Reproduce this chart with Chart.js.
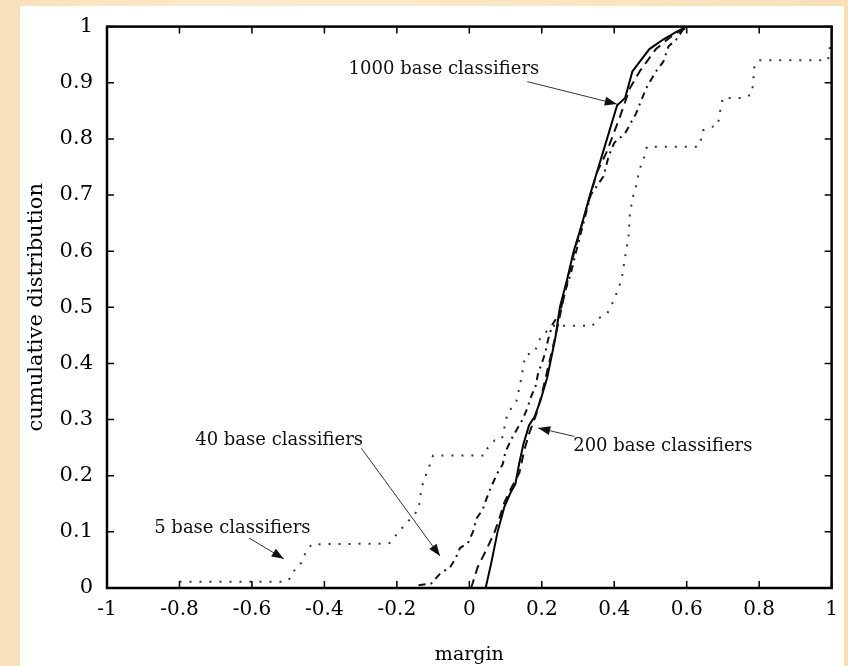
<!DOCTYPE html>
<html>
<head>
<meta charset="utf-8">
<script src="https://cdn.jsdelivr.net/npm/chart.js@4.4.0/dist/chart.umd.min.js"></script>
<style>
  html, body { margin: 0; padding: 0; }
  body {
    width: 848px; height: 666px; overflow: hidden;
    background: linear-gradient(90deg, #f8e0bb 0%, #fceace 30%, #fae5c4 65%, #f8dfb8 100%);
  }
  canvas { display: block; }
</style>
</head>
<body>
<canvas id="margins" width="848" height="666"></canvas>
<script>
"use strict";

// Tick values and labels.
const xTicks = [-1, -0.8, -0.6, -0.4, -0.2, 0, 0.2, 0.4, 0.6, 0.8, 1];
const xTickLabels = ["-1", "-0.8", "-0.6", "-0.4", "-0.2", "0", "0.2", "0.4", "0.6", "0.8", "1"];
const yTicks = [0, 0.1, 0.2, 0.3, 0.4, 0.5, 0.6, 0.7, 0.8, 0.9, 1];
const yTickLabels = ["0", "0.1", "0.2", "0.3", "0.4", "0.5", "0.6", "0.7", "0.8", "0.9", "1"];

// Margin distributions, [margin, cumulative].
const base5 = [
  [-0.8, 0.011], [-0.506, 0.011], [-0.49, 0.02], [-0.479, 0.037], [-0.463, 0.045],
  [-0.452, 0.063], [-0.435, 0.078], [-0.25, 0.079], [-0.22, 0.08], [-0.195, 0.10],
  [-0.17, 0.118], [-0.14, 0.14], [-0.135, 0.165], [-0.127, 0.19], [-0.114, 0.21],
  [-0.10, 0.236], [0.042, 0.236], [0.05, 0.249], [0.07, 0.263], [0.09, 0.265],
  [0.105, 0.31], [0.13, 0.333], [0.14, 0.362], [0.15, 0.397], [0.155, 0.415],
  [0.18, 0.42], [0.195, 0.444], [0.21, 0.455], [0.23, 0.467], [0.34, 0.467],
  [0.352, 0.479], [0.38, 0.488], [0.40, 0.514], [0.42, 0.549], [0.43, 0.589],
  [0.44, 0.629], [0.443, 0.664], [0.45, 0.693], [0.46, 0.716], [0.47, 0.746],
  [0.483, 0.768], [0.49, 0.786], [0.632, 0.786], [0.64, 0.80], [0.645, 0.815],
  [0.66, 0.82], [0.686, 0.824], [0.69, 0.841], [0.695, 0.859], [0.70, 0.873],
  [0.76, 0.873], [0.78, 0.88], [0.783, 0.899], [0.785, 0.915], [0.787, 0.931],
  [0.80, 0.94], [0.99, 0.94], [0.995, 0.963], [1.0, 0.98]
];
const base40 = [
  [-0.14, 0.005], [-0.105, 0.008], [-0.08, 0.026], [-0.053, 0.037], [-0.037, 0.054],
  [-0.026, 0.071], [-0.004, 0.08], [0.01, 0.10], [0.02, 0.124], [0.037, 0.14],
  [0.048, 0.16], [0.06, 0.18], [0.078, 0.205], [0.092, 0.22], [0.10, 0.243],
  [0.12, 0.27], [0.147, 0.30], [0.16, 0.32], [0.17, 0.34], [0.183, 0.36],
  [0.19, 0.383], [0.2, 0.40], [0.21, 0.42], [0.218, 0.444], [0.23, 0.47],
  [0.25, 0.49], [0.265, 0.53], [0.28, 0.56], [0.295, 0.60], [0.315, 0.65],
  [0.335, 0.70], [0.37, 0.733], [0.385, 0.77], [0.4, 0.793], [0.43, 0.81],
  [0.46, 0.845], [0.488, 0.89], [0.515, 0.92], [0.535, 0.937], [0.55, 0.965],
  [0.57, 0.976], [0.59, 0.995], [0.6, 1.0]
];
const base200 = [
  [0.005, 0], [0.023, 0.037], [0.05, 0.072], [0.07, 0.10], [0.083, 0.124],
  [0.097, 0.153], [0.114, 0.176], [0.138, 0.205], [0.152, 0.246], [0.165, 0.275],
  [0.185, 0.31], [0.20, 0.345], [0.22, 0.40], [0.24, 0.455], [0.255, 0.50],
  [0.272, 0.55], [0.29, 0.60], [0.31, 0.646], [0.33, 0.69], [0.352, 0.74],
  [0.378, 0.775], [0.415, 0.838], [0.443, 0.89], [0.47, 0.92], [0.515, 0.96],
  [0.56, 0.984], [0.59, 0.995], [0.61, 1.0]
];
const base1000 = [
  [0.045, 0], [0.06, 0.043], [0.078, 0.10], [0.097, 0.145], [0.114, 0.17],
  [0.127, 0.185], [0.138, 0.223], [0.15, 0.258], [0.165, 0.29], [0.18, 0.305],
  [0.196, 0.333], [0.215, 0.375], [0.237, 0.444], [0.25, 0.50], [0.27, 0.55],
  [0.288, 0.60], [0.31, 0.646], [0.333, 0.70], [0.352, 0.74], [0.38, 0.80],
  [0.408, 0.86], [0.43, 0.873], [0.45, 0.92], [0.47, 0.937], [0.497, 0.96],
  [0.535, 0.977], [0.57, 0.99], [0.6, 1.0]
];

// Callouts: text, text centre, arrow start, arrow tip (data units).
const notes = [
  { text: "1000 base classifiers", at: [-0.07, 0.923], from: [0.16, 0.902], to: [0.407, 0.862] },
  { text: "200 base classifiers", at: [0.534, 0.253], from: [0.29, 0.27], to: [0.19, 0.285] },
  { text: "40 base classifiers", at: [-0.525, 0.263], from: [-0.298, 0.249], to: [-0.081, 0.057] },
  { text: "5 base classifiers", at: [-0.654, 0.106], from: [-0.608, 0.089], to: [-0.512, 0.052] }
];

const SERIF = "'DejaVu Serif', 'Liberation Serif', serif";
const toPoints = (arr) => arr.map(([x, y]) => ({ x, y }));

const line = (data, dash, width, color) => ({
  data: toPoints(data),
  showLine: true,
  borderColor: color,
  borderWidth: width,
  borderDash: dash,
  pointRadius: 0,
  tension: 0,
  fill: false,
});

// Paper, frame, inward ticks and callouts.
const paperPlugin = {
  id: "paper",
  beforeDraw(chart) {
    const { ctx } = chart;
    ctx.save();
    ctx.fillStyle = "#ffffff";
    ctx.fillRect(20, 6, chart.width - 24, chart.height - 6);
    ctx.restore();
  },
  afterDatasetsDraw(chart) {
    const { ctx, scales: { x, y } } = chart;
    ctx.save();
    ctx.fillStyle = "#111";
    ctx.strokeStyle = "#333";
    ctx.lineWidth = 1;
    ctx.font = "18px " + SERIF;
    ctx.textAlign = "center";
    ctx.textBaseline = "middle";
    notes.forEach((n) => {
      ctx.fillText(n.text, x.getPixelForValue(n.at[0]), y.getPixelForValue(n.at[1]));
      const x0 = x.getPixelForValue(n.from[0]), y0 = y.getPixelForValue(n.from[1]);
      const x1 = x.getPixelForValue(n.to[0]), y1 = y.getPixelForValue(n.to[1]);
      ctx.beginPath();
      ctx.moveTo(x0, y0);
      ctx.lineTo(x1, y1);
      ctx.stroke();
      const ang = Math.atan2(y1 - y0, x1 - x0), len = 12, w = 4.5;
      const bx = x1 - len * Math.cos(ang), by = y1 - len * Math.sin(ang);
      ctx.beginPath();
      ctx.moveTo(x1, y1);
      ctx.lineTo(bx + w * Math.sin(ang), by - w * Math.cos(ang));
      ctx.lineTo(bx - w * Math.sin(ang), by + w * Math.cos(ang));
      ctx.closePath();
      ctx.fill();
    });
    ctx.restore();
  },
  afterDraw(chart) {
    const { ctx, chartArea: a, scales: { x, y } } = chart;
    ctx.save();
    ctx.strokeStyle = "#000";
    ctx.lineWidth = 1.5;
    ctx.beginPath();
    xTicks.forEach((v) => {
      const px = x.getPixelForValue(v);
      ctx.moveTo(px, a.bottom); ctx.lineTo(px, a.bottom - 7);
      ctx.moveTo(px, a.top); ctx.lineTo(px, a.top + 7);
    });
    yTicks.forEach((v) => {
      const py = y.getPixelForValue(v);
      ctx.moveTo(a.left, py); ctx.lineTo(a.left + 7, py);
      ctx.moveTo(a.right, py); ctx.lineTo(a.right - 7, py);
    });
    ctx.stroke();
    ctx.lineWidth = 2.5;
    ctx.strokeRect(a.left, a.top, a.right - a.left, a.bottom - a.top);
    ctx.restore();
  },
};

const ctx = document.getElementById("margins");

const marginChart = new Chart(ctx, {
  type: "scatter",
  data: {
    datasets: [
      line(base5, [2, 8], 2, "#333"),
      line(base40, [7, 5, 2, 5], 2, "#111"),
      line(base200, [9, 6], 2, "#111"),
      line(base1000, [], 2, "#000"),
    ],
  },
  options: {
    responsive: false,
    animation: false,
    layout: { padding: { top: 14, right: 12, left: 0, bottom: 0 } },
    plugins: { legend: { display: false }, tooltip: { enabled: false } },
    scales: {
      x: {
        type: "linear",
        min: -1,
        max: 1,
        grid: { display: false, drawTicks: false },
        border: { display: false },
        afterBuildTicks: (s) => { s.ticks = xTicks.map((v) => ({ value: v })); },
        afterFit: (s) => { s.height = 78; },
        ticks: {
          padding: 10,
          color: "#000",
          font: { family: SERIF, size: 20 },
          callback: (v, i) => xTickLabels[i],
        },
        title: {
          display: true,
          text: "margin",
          color: "#000",
          font: { family: SERIF, size: 19 },
          padding: { top: 0, bottom: 0 },
        },
      },
      y: {
        type: "linear",
        min: 0,
        max: 1,
        grid: { display: false, drawTicks: false },
        border: { display: false },
        afterBuildTicks: (s) => { s.ticks = yTicks.map((v) => ({ value: v })); },
        afterFit: (s) => { s.width = 107; },
        ticks: {
          padding: 14,
          color: "#000",
          font: { family: SERIF, size: 21 },
          callback: (v, i) => yTickLabels[i],
        },
        title: {
          display: true,
          text: "cumulative distribution",
          color: "#000",
          font: { family: SERIF, size: 21 },
          padding: { top: 24, bottom: 0 },
        },
      },
    },
  },
  plugins: [paperPlugin],
});
</script>
</body>
</html>
